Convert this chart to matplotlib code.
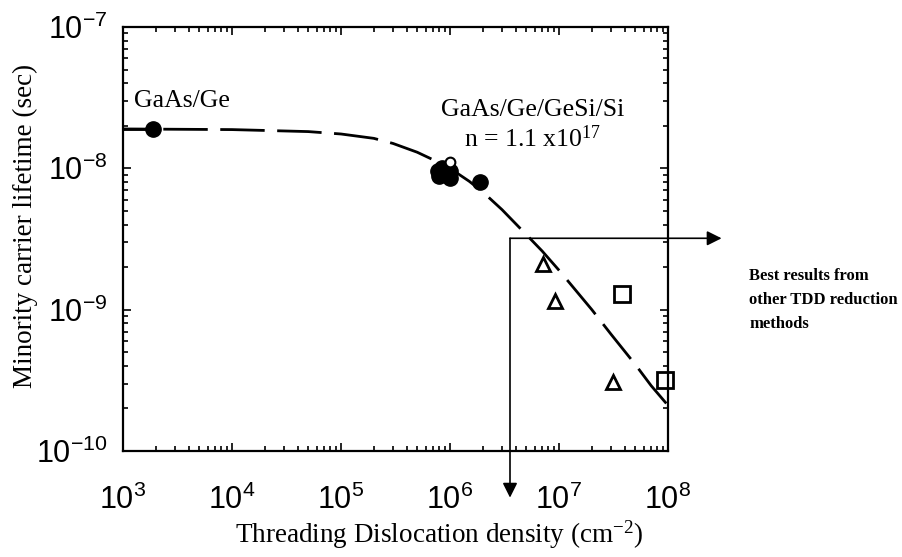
import matplotlib
matplotlib.use("Agg")
import matplotlib.pyplot as plt
from matplotlib.ticker import LogLocator, NullFormatter

# ---- data ----
gaas_ge_x = [1.9e3]
gaas_ge_y = [1.9e-8]

gesi_filled_x = [7.8e5, 8.5e5, 8.0e5, 1.0e6, 1.0e6, 1.9e6]
gesi_filled_y = [9.5e-9, 1.0e-8, 8.8e-9, 8.5e-9, 9.5e-9, 8.0e-9]
gesi_open_x = [1.0e6]
gesi_open_y = [1.1e-8]

tri_x = [7.1e6, 9.2e6, 3.1e7]
tri_y = [2.1e-9, 1.15e-9, 3.1e-10]

sq_x = [3.8e7, 9.3e7]
sq_y = [1.3e-9, 3.2e-10]

fit_x = [1e3, 1e4, 5e4, 1e5, 2e5, 3e5, 5e5, 7e5, 1e6, 1.5e6, 2e6, 3e6,
         5e6, 7e6, 1e7, 2e7, 3e7, 5e7, 7e7, 1e8]
fit_y = [1.9e-8, 1.88e-8, 1.82e-8, 1.75e-8, 1.63e-8, 1.50e-8, 1.30e-8,
         1.15e-8, 1.0e-8, 8.1e-9, 6.8e-9, 5.1e-9, 3.4e-9, 2.6e-9, 1.9e-9,
         1.0e-9, 6.7e-10, 4.1e-10, 2.9e-10, 2.1e-10]

box_x = 3.55e6
box_y = 3.2e-9

xlim = (1e3, 1e8)
ylim = (1e-10, 1e-7)

# ---- plotting ----
plt.rcParams['font.family'] = ['Liberation Sans', 'DejaVu Sans']
plt.rcParams['mathtext.default'] = 'regular'
plt.rcParams['axes.unicode_minus'] = False

fig = plt.figure(figsize=(9.02, 5.57), dpi=100)
ax = fig.add_axes([0.1364, 0.1903, 0.6042, 0.7612])

ax.set_xscale('log')
ax.set_yscale('log')
ax.set_xlim(*xlim)
ax.set_ylim(*ylim)

# solid part from axis to first point then dashed fit
ax.plot([fit_x[0], gaas_ge_x[0]], [fit_y[0], gaas_ge_y[0]], color='black', lw=2.0)
ax.plot(fit_x, fit_y, color='black', lw=2.0, linestyle=(6, (16, 4.5)))

ax.plot(gaas_ge_x, gaas_ge_y, 'o', color='black', ms=11)
ax.plot(gesi_filled_x, gesi_filled_y, 'o', color='black', ms=11)
ax.plot(gesi_open_x, gesi_open_y, 'o', mfc='white', mec='black', ms=7, mew=1.5)
ax.plot(tri_x, tri_y, '^', mfc='white', mec='black', ms=10, mew=2)
ax.plot(sq_x, sq_y, 's', mfc='white', mec='black', ms=11, mew=2, clip_on=False)

# box and arrows
ax.annotate('', xy=(3.1e8, box_y), xytext=(box_x, box_y),
            arrowprops=dict(arrowstyle='-|>', color='black', lw=1.2,
                            mutation_scale=22, shrinkA=0, shrinkB=0),
            annotation_clip=False)
ax.annotate('', xy=(box_x, 10**-10.33), xytext=(box_x, box_y),
            arrowprops=dict(arrowstyle='-|>', color='black', lw=1.2,
                            mutation_scale=22, shrinkA=0, shrinkB=0),
            annotation_clip=False)

serif = ['Liberation Serif', 'DejaVu Serif']
ax.text(1.25e3, 3.0e-8, 'GaAs/Ge', family=serif, fontsize=18.5, ha='left', va='center')
ax.text(5.7e6, 2.6e-8, 'GaAs/Ge/GeSi/Si', family=serif, fontsize=18.5, ha='center', va='center')
ax.text(5.7e6, 1.62e-8, 'n = 1.1 x10$^{17}$', family=serif, fontsize=18.5, ha='center', va='center')
fig.text(749 / 902, 1 - 268 / 557, 'Best results from\nother TDD reduction\nmethods',
         family=serif, fontsize=12, fontweight='bold', ha='left', va='top',
         linespacing=1.65)

ax.set_xlabel('Threading Dislocation density (cm$^{-2}$)', family=serif,
              fontsize=19.5, va='center')
ax.set_ylabel('Minority carrier lifetime (sec)', family=serif, fontsize=19.5,
              va='center')
ax.xaxis.set_label_coords(0.58, -0.198)
ax.yaxis.set_label_coords(-0.18, 0.53)

ax.xaxis.set_major_locator(LogLocator(base=10, numticks=10))
ax.yaxis.set_major_locator(LogLocator(base=10, numticks=10))
ax.xaxis.set_minor_locator(LogLocator(base=10, subs=range(2, 10), numticks=20))
ax.yaxis.set_minor_locator(LogLocator(base=10, subs=range(2, 10), numticks=20))
ax.xaxis.set_minor_formatter(NullFormatter())
ax.yaxis.set_minor_formatter(NullFormatter())

ax.tick_params(which='both', direction='in', top=True, right=True, width=1.2)
ax.tick_params(which='major', length=6, labelsize=22)
ax.tick_params(which='minor', length=3.5)
ax.tick_params(axis='x', which='major', pad=24)
ax.tick_params(axis='y', which='major', pad=11)

for s in ax.spines.values():
    s.set_linewidth(1.6)

fig.savefig('out.png', dpi=100)
